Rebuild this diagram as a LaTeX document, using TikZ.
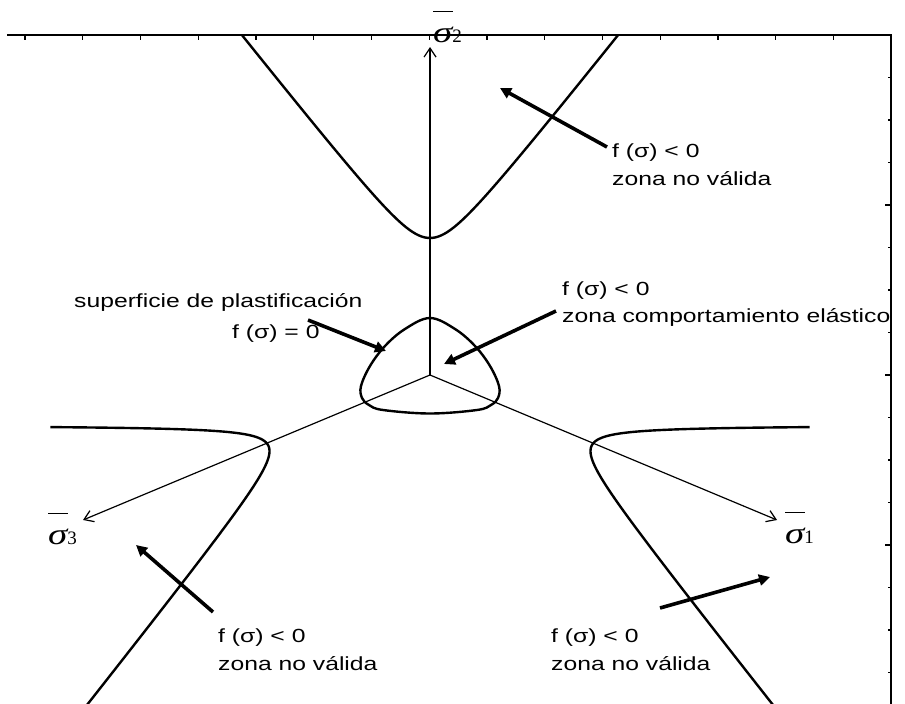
\documentclass[tikz,border=0pt]{standalone}
\usepackage{fontspec}
\setmainfont{Liberation Sans}
\newfontfamily\sigserif{Liberation Serif}
\usepackage{graphicx}
\usetikzlibrary{arrows.meta}
\newcommand{\wtext}[1]{\scalebox{1.3}[1]{#1}}
\newcommand{\sigmalabel}[1]{\rlap{\raisebox{30pt}{\rule{20pt}{1.4pt}}}\scalebox{1.3}[1]{\sigserif\fontsize{30}{30}\selectfont\itshape σ}{\sigserif\fontsize{19}{19}\selectfont #1}}
\begin{document}
\begin{tikzpicture}[x=1pt,y=-1pt,
  frame/.style={line width=1.8pt},
  tickmark/.style={line width=1.2pt},
  curve/.style={line width=2.4pt, line join=round},
  axis/.style={line width=1.2pt, -{Straight Barb[length=9pt,width=12pt,line width=1.2pt]}},
  callout/.style={line width=3.6pt, -{Triangle[length=11pt,width=11pt]}},
  lbl/.style={anchor=base west, inner sep=0pt, font=\fontsize{19}{23}\selectfont},
  sig/.style={anchor=base west, inner sep=0pt},
  declare function={
    hypv(\u)=100 + 10*sqrt(13.69 + 3*(\u/10)^2);
  },
]
\useasboundingbox (0,0) rectangle (905,704);
\clip (0,0) rectangle (905,704);
\fill[white] (0,0) rectangle (905,704);

% frame
\draw[frame] (7,35) -- (891,35) -- (891,704);
\foreach \k in {0,...,14} \draw[tickmark] ({25+57.75*\k},35) -- ++(0,4.5);
\foreach \k in {1,...,15} {
  \pgfmathsetmacro{\tl}{(mod(\k,4)==0) ? 6 : 3.5}
  \draw[tickmark] (891,{35+42.5*\k}) -- ++(-\tl,0);
}

% axes
\coordinate (O) at (430,375);
\coordinate (s2tip) at (430,47);
\coordinate (s1tip) at (777,520);
\coordinate (s3tip) at (83,520);
\draw[axis] (O) -- (s2tip);
\draw[axis] (O) -- (s1tip);
\draw[axis] (O) -- (s3tip);

% non-valid zone curves
\draw[curve] plot[domain=-137:137, samples=161, variable=\u]
  ({430 + 1.374*\u}, {375 - hypv(\u)});
\draw[curve] plot[domain=-165:93, samples=181, variable=\u]
  ({430 + 1.374*(\u*cos(120) - hypv(\u)*sin(120))},
   {375 - (\u*sin(120) + hypv(\u)*cos(120))});
\draw[curve] plot[domain=-93:165, samples=181, variable=\u]
  ({430 + 1.374*(\u*cos(-120) - hypv(\u)*sin(-120))},
   {375 - (\u*sin(-120) + hypv(\u)*cos(-120))});

% yield surface
\draw[curve] plot[smooth cycle, tension=0.6] coordinates {
  (430,318) (455,329) (475,346) (490,366) (499,386) (498,398) (491,405)
  (477,410) (430,413.5) (383,410) (369,405) (362,398) (361,386) (370,366)
  (385,346) (405,329)};

% axis labels
\node[sig] (l2) at (433,42) {\sigmalabel{2}};
\node[sig] (l1) at (785,543) {\sigmalabel{1}};
\node[sig] (l3) at (48,544) {\sigmalabel{3}};

% texts
\node[lbl] (t1a) at (612,157) {\wtext{f (σ) < 0}};
\node[lbl] (t1b) at (612,185) {\wtext{zona no válida}};
\node[lbl] (t2a) at (562,295) {\wtext{f (σ) < 0}};
\node[lbl] (t2b) at (562,322) {\wtext{zona comportamiento elástico}};
\node[lbl] (t3a) at (74,307) {\wtext{superficie de plastificación}};
\node[lbl] (t3b) at (232,338) {\wtext{f (σ) = 0}};
\node[lbl] (t4a) at (218,642) {\wtext{f (σ) < 0}};
\node[lbl] (t4b) at (218,670) {\wtext{zona no válida}};
\node[lbl] (t5a) at (551,642) {\wtext{f (σ) < 0}};
\node[lbl] (t5b) at (551,670) {\wtext{zona no válida}};

% callout arrows
\coordinate (c1s) at (607,147); \coordinate (c1e) at (500,88);
\coordinate (c2s) at (556,311); \coordinate (c2e) at (444,364);
\coordinate (c3s) at (308,320); \coordinate (c3e) at (386,351);
\coordinate (c4s) at (213,612); \coordinate (c4e) at (136,545);
\coordinate (c5s) at (660,608); \coordinate (c5e) at (770,577);
\draw[callout] (c1s) -- (c1e);
\draw[callout] (c2s) -- (c2e);
\draw[callout] (c3s) -- (c3e);
\draw[callout] (c4s) -- (c4e);
\draw[callout] (c5s) -- (c5e);
\end{tikzpicture}
\end{document}
